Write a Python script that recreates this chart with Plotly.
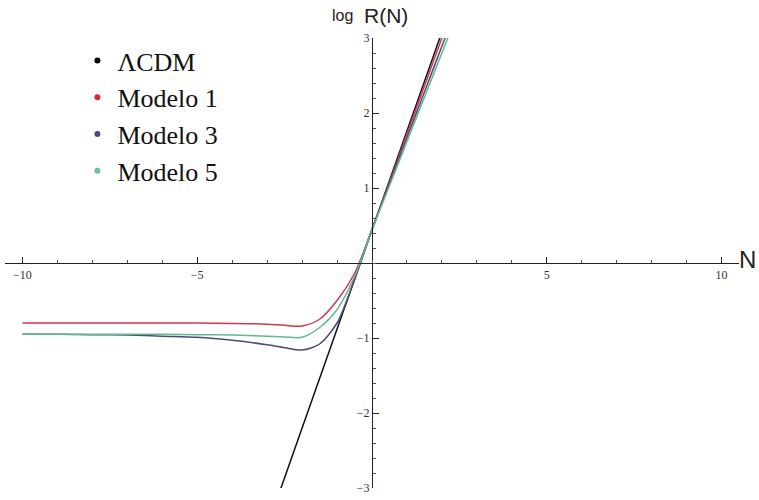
import plotly.graph_objects as go

# ---- data ----
N_models = [-10, -9, -8, -7, -6, -5, -4, -3, -2.5, -2, -1.5, -1, -0.5, 0, 0.5, 1, 1.5, 2, 2.5]
modelo1 = [-0.80, -0.80, -0.80, -0.80, -0.80, -0.80, -0.805, -0.815, -0.83, -0.84, -0.75, -0.50, -0.14, 0.45, 1.08, 1.72, 2.36, 3.00, 3.60]
modelo3 = [-0.95, -0.95, -0.955, -0.96, -0.975, -0.99, -1.03, -1.09, -1.13, -1.16, -1.08, -0.80, -0.22, 0.45, 1.06, 1.67, 2.28, 2.89, 3.50]
modelo5 = [-0.95, -0.95, -0.95, -0.95, -0.95, -0.955, -0.96, -0.975, -0.985, -0.99, -0.86, -0.62, -0.18, 0.44, 1.03, 1.62, 2.21, 2.80, 3.39]

N_lcdm = [-2.8, -2, -1, 0, 1, 2, 2.3]
lcdm = [-3.26, -2.20, -0.88, 0.44, 1.76, 3.08, 3.48]

x_ticks = [-10, -5, 5, 10]
y_ticks = [-3, -2, -1, 1, 2, 3]

names = ["ΛCDM", "Modelo 1", "Modelo 3", "Modelo 5"]
colors = ["#111111", "#d8344f", "#4b4b7a", "#5fba92"]
dot_colors = ["#000000", "#d42a3a", "#4b4b7a", "#6cc39a"]

fig = go.Figure()

series = [(N_lcdm, lcdm), (N_models, modelo1), (N_models, modelo3), (N_models, modelo5)]
for (xs, ys), c in zip(series, colors):
    fig.add_trace(go.Scatter(x=xs, y=ys, mode="lines",
                             line=dict(color=c, width=1.5, shape="spline", smoothing=0.8),
                             showlegend=False, hoverinfo="skip"))

for name, c in zip(names, dot_colors):
    fig.add_trace(go.Scatter(x=[None], y=[None], mode="markers", name=name,
                             marker=dict(color=c, size=6)))

tick_font = dict(family="Liberation Serif", size=12, color="#333333")

L, R, T, B = 4.5, 19.5, 38, 12
PW = 759 - L - R
PH = 500 - T - B

fig.update_layout(
    width=759, height=500,
    margin=dict(l=L, r=R, t=T, b=B, autoexpand=False),
    paper_bgcolor="white", plot_bgcolor="white",
    xaxis=dict(range=[-10.5, 10.5], anchor="free", position=0.5, showgrid=False, zeroline=False,
               automargin=False,
               showline=True, linecolor="#222", linewidth=1.2,
               tickvals=x_ticks, ticks="inside", ticklen=6, tickcolor="#222", tickwidth=1,
               tickfont=tick_font,
               minor=dict(dtick=1, tick0=0, ticks="inside", ticklen=3, tickcolor="#555", showgrid=False)),
    yaxis=dict(range=[-3, 3], anchor="free", position=0.5, showgrid=False, zeroline=False,
               automargin=False,
               showline=True, linecolor="#222", linewidth=1.2,
               tickvals=y_ticks, ticks="inside", ticklen=6, tickcolor="#222", tickwidth=1,
               tickfont=tick_font,
               minor=dict(dtick=0.2, tick0=0, ticks="inside", ticklen=3, tickcolor="#555", showgrid=False)),
    legend=dict(x=(77 - L) / PW, y=1 + (T - 37) / PH, xanchor="left", yanchor="top",
                font=dict(family="Liberation Serif", size=26, color="#111"),
                bgcolor="rgba(0,0,0,0)", itemwidth=30, tracegroupgap=0),
)

fig.add_annotation(text="log", xref="paper", yref="paper", x=(342 - L) / PW, y=1 + (T - 15) / PH,
                   showarrow=False, font=dict(family="Liberation Sans", size=16, color="#222"),
                   xanchor="center", yanchor="middle")
fig.add_annotation(text="R(N)", xref="paper", yref="paper", x=(386 - L) / PW, y=1 + (T - 15) / PH,
                   showarrow=False, font=dict(family="Liberation Sans", size=21, color="#222"),
                   xanchor="center", yanchor="middle")
fig.add_annotation(text="N", xref="paper", yref="paper", x=(737 - L) / PW, y=0.5 + 4 / PH,
                   showarrow=False, font=dict(family="Liberation Sans", size=24, color="#222"),
                   xanchor="left", yanchor="middle")

fig.write_html("out.html", config={"displayModeBar": False},
               post_script="document.body.style.margin='0';document.body.style.overflow='hidden';")
